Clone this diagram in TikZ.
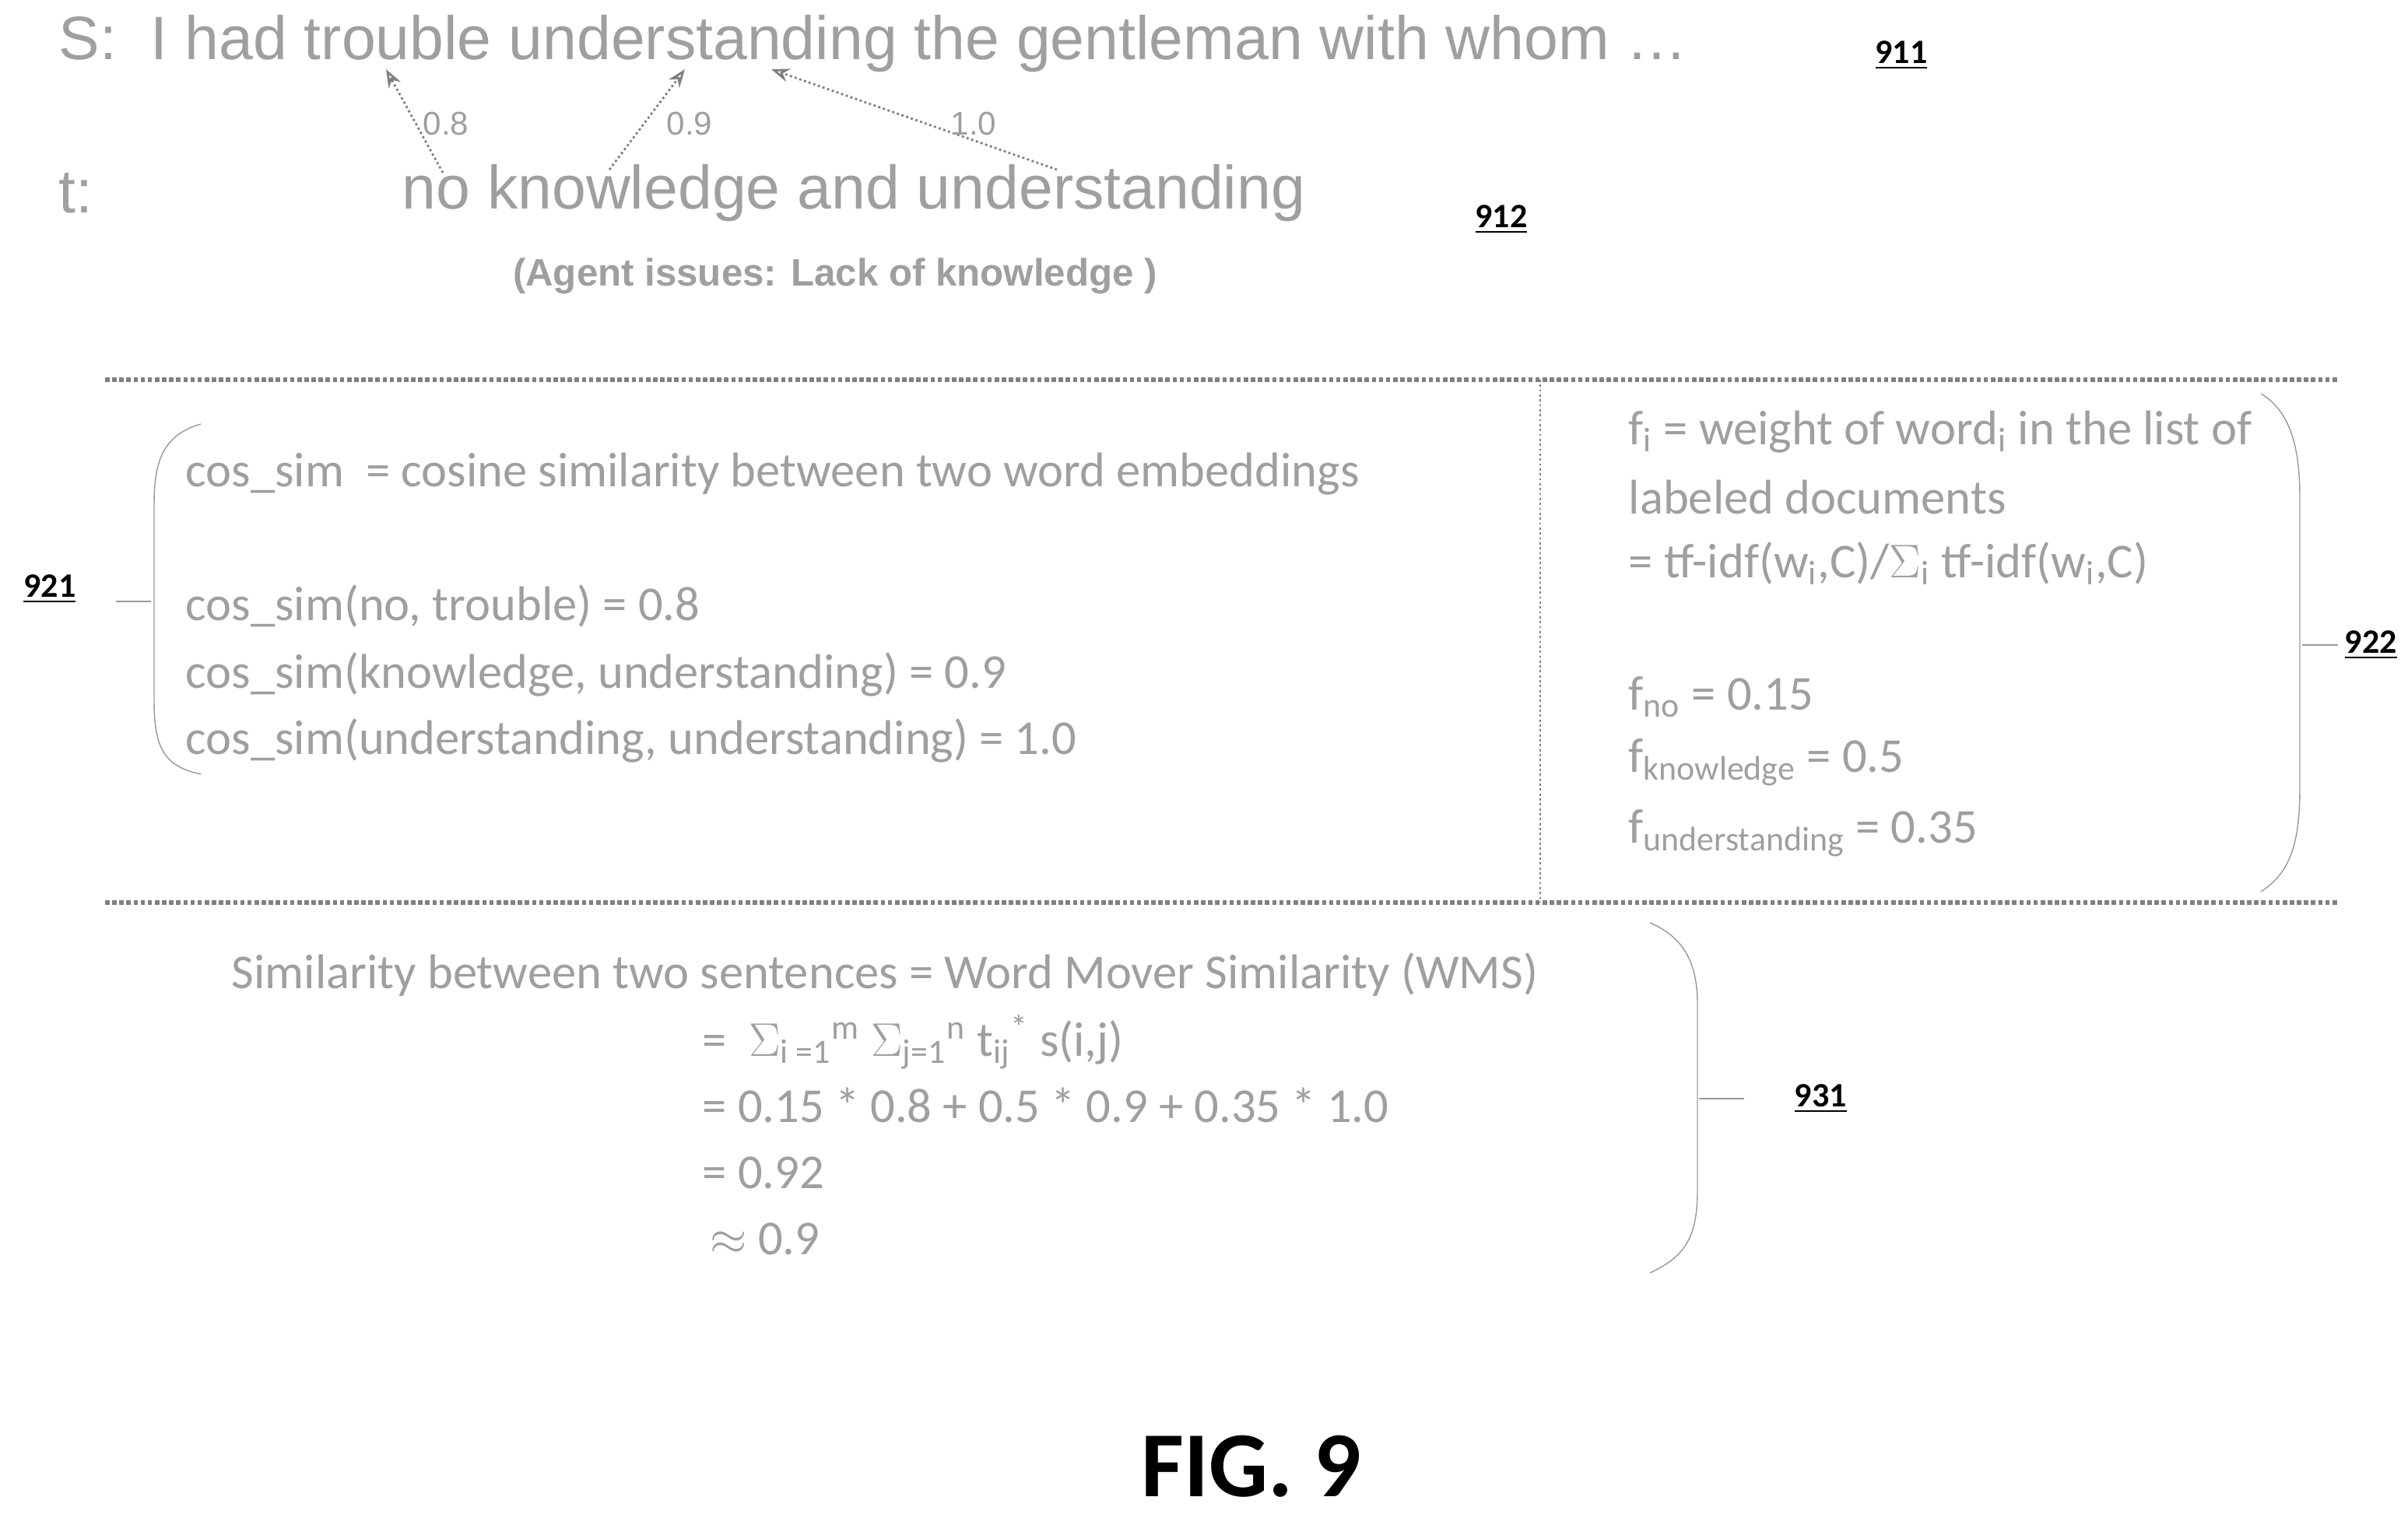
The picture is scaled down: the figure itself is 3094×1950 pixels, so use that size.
\documentclass[tikz,border=0pt]{standalone}
\usepackage{fontspec}
\setmainfont{Liberation Sans}
\newfontfamily\narrowfont{Carlito}
\usetikzlibrary{positioning,arrows.meta}

\tikzset{
  sent/.style={anchor=west, inner sep=0pt, text=gray!75, font=\fontsize{22.4}{26}\selectfont},
  note/.style={anchor=west, inner sep=0pt, text=gray!75, font=\narrowfont\fontsize{17.8}{21}\selectfont},
  ref/.style={inner sep=0pt, font=\narrowfont\bfseries\fontsize{12.5}{14}\selectfont},
  link/.style={draw=gray, densely dotted, thick, -{Stealth[open]}},
  weight/.style={inner sep=1pt, text=gray!75, font=\fontsize{12}{14}\selectfont},
  rule/.style={draw=gray, densely dotted, line width=1.6pt},
  brace/.style={draw=gray!80, thin}
}

\begin{document}
\begin{tikzpicture}[x=0.01cm, y=-0.01cm]
  \useasboundingbox (0,0) rectangle (3094,1950);

  % sentences
  \node[sent] (s) at (75,56) {S:\ \ I had trouble understanding the gentleman with whom \dots};
  \node[sent] (t) at (75,248) {t:};
  \node[sent] (tw) at (516,248) {no knowledge and understanding};
  \node[ref] (r911) at (2443,71) {\underline{911}};
  \node[ref] (r912) at (1929,282) {\underline{912}};
  \node[text=gray!75, font=\bfseries\fontsize{14}{16}\selectfont] (agent) at (1073,355) {(Agent issues: Lack of knowledge )};

  % word links
  \coordinate (trouble) at (496,89);
  \coordinate (under) at (880,89);
  \coordinate (under2) at (991,89);
  \coordinate (no) at (569,222);
  \coordinate (know) at (783,218);
  \coordinate (und) at (1358,218);
  \draw[link] (no) -- (trouble);
  \draw[link] (know) -- (under);
  \draw[link] (und) -- (under2);
  \node[weight] (w1) at (573,159) {0.8};
  \node[weight] (w2) at (886,159) {0.9};
  \node[weight] (w3) at (1251,159) {1.0};

  % frame
  \coordinate (ul) at (135,488);  \coordinate (ur) at (3004,488);
  \coordinate (ll) at (135,1160); \coordinate (lr) at (3004,1160);
  \coordinate (mt) at (1979,488); \coordinate (mb) at (1979,1160);
  \path[rule] (ul) -- (ur);
  \path[rule] (ll) -- (lr);
  \draw[gray, densely dotted, thick] (mt) -- (mb);

  % 921
  \node[note] (c0) at (238,609) {cos\_sim\ \ = cosine similarity between two word embeddings};
  \node[note] (c1) at (238,779) {cos\_sim(no,\ trouble) = 0.8};
  \node[note] (c2) at (238,867) {cos\_sim(knowledge, understanding) = 0.9};
  \node[note] (c3) at (238,952) {cos\_sim(understanding, understanding) = 1.0};
  \draw[brace] (258,545) .. controls (205,560) and (198,600) .. (198,650) -- (198,900)
               .. controls (198,960) and (210,985) .. (258,995);
  \coordinate (b921) at (194,773);
  \coordinate (t921) at (149,773);
  \draw[brace] (b921) -- (t921);
  \node[ref, anchor=east] (r921) at (98,757) {\underline{921}};

  % 922
  \node[note] (f0) at (2092,555) {f\textsubscript{i} = weight of word\textsubscript{i} in the list of};
  \node[note] (f1) at (2092,639) {labeled documents};
  \node[note] (f2) at (2092,724) {= tf-idf(w\textsubscript{i},C)/$\Sigma$\textsubscript{i} tf-idf(w\textsubscript{i},C)};
  \node[note] (f3) at (2092,896) {f\textsubscript{no} = 0.15};
  \node[note] (f4) at (2092,980) {f\textsubscript{knowledge} = 0.5};
  \node[note] (f5) at (2092,1071) {f\textsubscript{understanding} = 0.35};
  \draw[brace] (2905,506) .. controls (2945,530) and (2955,580) .. (2955,640) -- (2955,1010)
               .. controls (2955,1080) and (2945,1120) .. (2905,1146);
  \coordinate (b922) at (2958,829);
  \coordinate (t922) at (3004,829);
  \draw[brace] (b922) -- (t922);
  \node[ref, anchor=west] (r922) at (3012,829) {\underline{922}};

  % 931
  \node[note, anchor=center] (w0) at (1137,1253) {Similarity between two sentences = Word Mover Similarity (WMS)};
  \node[note] (w1l) at (902,1339) {=\ \ $\Sigma$\textsubscript{i =1}\textsuperscript{m} $\Sigma$\textsubscript{j=1}\textsuperscript{n} t\textsubscript{ij}\textsuperscript{*} s(i,j)};
  \node[note] (w2l) at (902,1420) {= 0.15 * 0.8 + 0.5 * 0.9 + 0.35 * 1.0};
  \node[note] (w3l) at (902,1507) {= 0.92};
  \node[note] (w4l) at (912,1592) {$\approx$ 0.9};
  \draw[brace] (2120,1186) .. controls (2165,1205) and (2181,1240) .. (2181,1290) -- (2181,1530)
               .. controls (2181,1590) and (2165,1615) .. (2120,1636);
  \coordinate (b931) at (2183,1412);
  \coordinate (t931) at (2241,1412);
  \draw[brace] (b931) -- (t931);
  \node[ref, anchor=west] (r931) at (2305,1412) {\underline{931}};

  \node[font=\narrowfont\bfseries\fontsize{34}{38}\selectfont] (fig) at (1608,1885) {FIG. 9};
\end{tikzpicture}
\end{document}
